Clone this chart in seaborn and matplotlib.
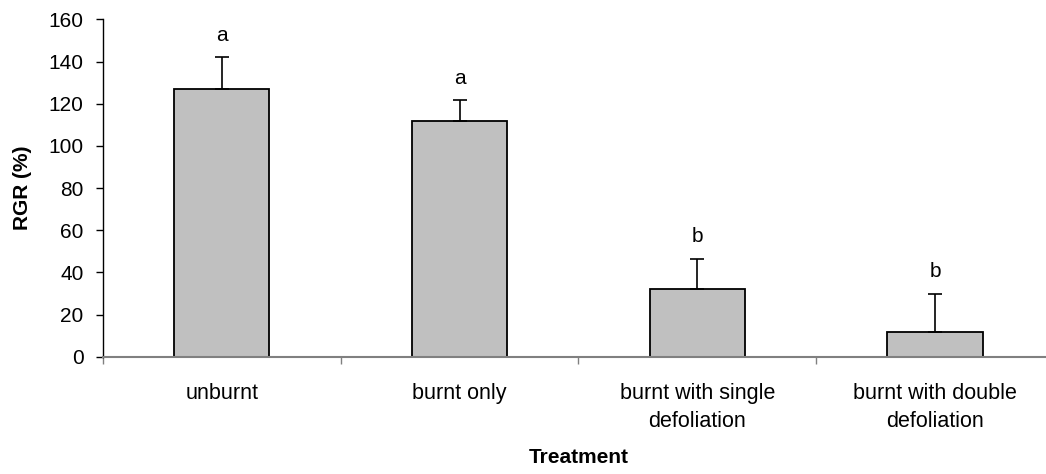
import matplotlib
matplotlib.use("Agg")
import matplotlib.pyplot as plt
import seaborn as sns
import pandas as pd

categories = ["unburnt", "burnt only", "burnt with single\ndefoliation", "burnt with double\ndefoliation"]
rgr_mean = [126.9, 111.9, 32.0, 11.7]
rgr_err = [15.2, 9.8, 14.3, 18.1]
letters = ["a", "a", "b", "b"]

df = pd.DataFrame({"Treatment": categories, "RGR": rgr_mean})

sns.set_theme(style="white")
plt.rcParams["font.family"] = ["Liberation Sans", "DejaVu Sans"]
plt.rcParams["text.color"] = "black"
plt.rcParams["axes.labelcolor"] = "black"
plt.rcParams["xtick.color"] = "black"
plt.rcParams["ytick.color"] = "black"

FS = 15

fig = plt.figure(figsize=(10.46, 4.74), dpi=100)
ax = fig.add_axes([0.0985, 0.2475, 0.909, 0.7115])

sns.barplot(data=df, x="Treatment", y="RGR", color="#c0c0c0", saturation=1,
            width=0.4, edgecolor="black", linewidth=1.3, errorbar=None, ax=ax)

xs = list(range(len(categories)))
ax.errorbar(xs, rgr_mean, yerr=[[0] * len(rgr_err), rgr_err], fmt="none",
            ecolor="black", elinewidth=1.2, capsize=5, capthick=1.2, zorder=1)

for x, m, e, l in zip(xs, rgr_mean, rgr_err, letters):
    ax.text(x, m + e + 6, l, ha="center", va="bottom", fontsize=FS, color="black")

ax.set_ylim(0, 160)
ax.set_xlim(-0.5, 3.5)
ax.set_yticks(range(0, 161, 20))
ax.set_xticks([-0.5, 0.5, 1.5, 2.5], minor=False)
ax.set_xticklabels([])
ax.set_xticks(xs, minor=True)
ax.set_xticklabels(categories, minor=True, fontsize=FS + 0.5, linespacing=1.45)
ax.tick_params(axis="x", which="minor", length=0, pad=19)
ax.tick_params(axis="x", which="major", length=5, width=1, color="#808080", direction="out", bottom=True)
ax.tick_params(axis="y", length=5, width=1, color="black", direction="out", left=True, labelsize=FS, pad=9)

for s in ["top", "right"]:
    ax.spines[s].set_visible(False)
ax.spines["left"].set_color("black")
ax.spines["left"].set_linewidth(1)
ax.spines["bottom"].set_color("#808080")
ax.spines["bottom"].set_linewidth(1.5)

ax.set_ylabel("RGR (%)", fontsize=FS, fontweight="bold")
ax.yaxis.set_label_coords(-0.0747, 0.5)
ax.set_xlabel("Treatment", fontsize=FS, fontweight="bold")
ax.xaxis.set_label_coords(0.5, -0.272)

fig.savefig("out.png", dpi=100)
